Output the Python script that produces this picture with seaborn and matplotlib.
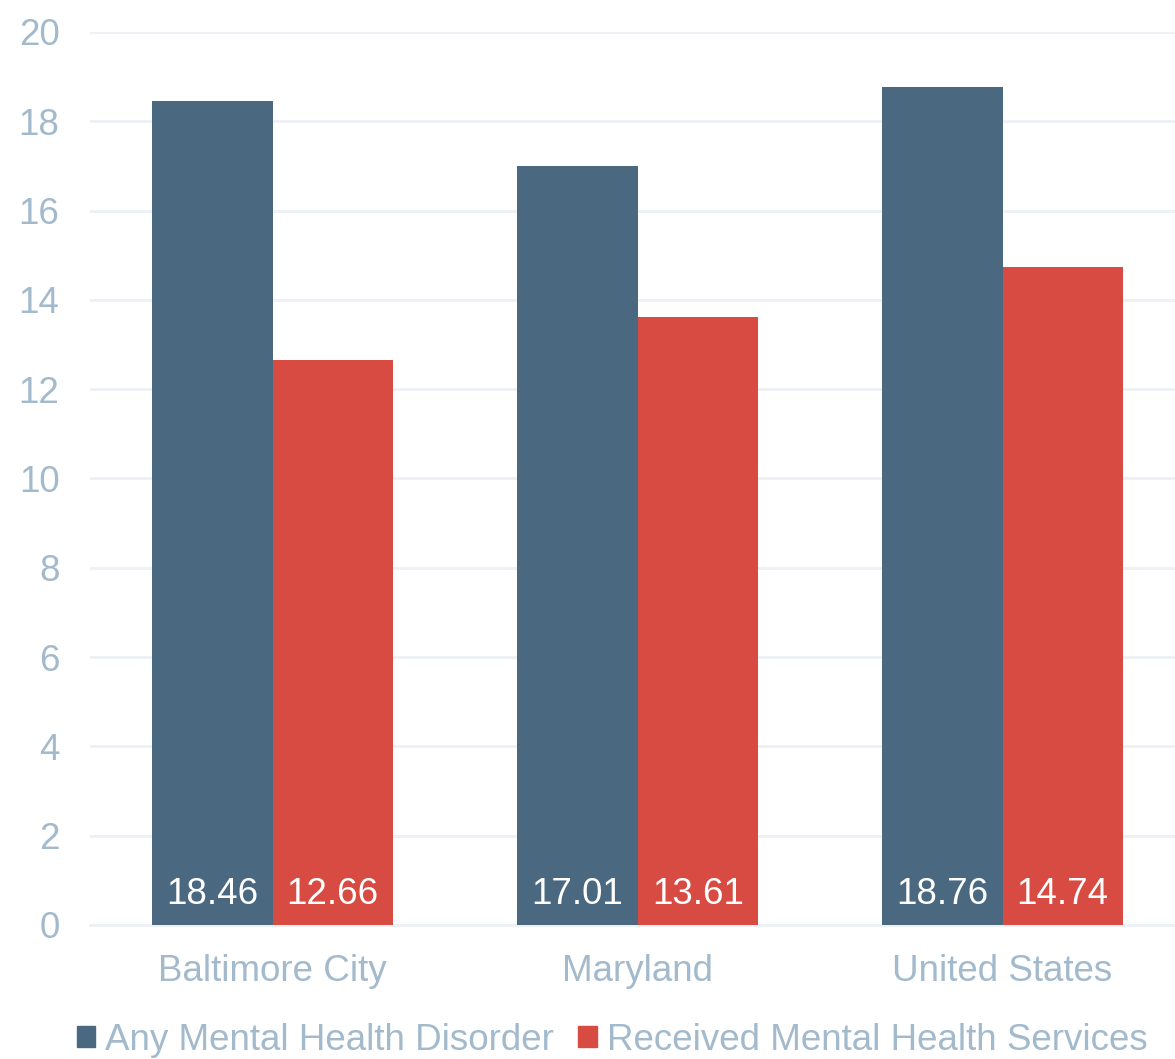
import matplotlib
matplotlib.use("Agg")
import matplotlib.pyplot as plt
import seaborn as sns
import pandas as pd

categories = ["Baltimore City", "Maryland", "United States"]
series_names = ["Any Mental Health Disorder", "Received Mental Health Services"]
any_disorder = [18.46, 17.01, 18.76]
received_services = [12.66, 13.61, 14.74]
y_ticks = [0, 2, 4, 6, 8, 10, 12, 14, 16, 18, 20]

colors = ["#4A6980", "#D84B42"]
text_color = "#A2BACC"
grid_color = "#EDF1F5"
fs = 26.5

df = pd.DataFrame({
    "Region": categories * 2,
    "Series": [series_names[0]] * 3 + [series_names[1]] * 3,
    "Value": any_disorder + received_services,
})

sns.set_theme(style="white")
plt.rcParams["font.family"] = ["Liberation Sans", "DejaVu Sans"]

fig = plt.figure(figsize=(11.75, 10.59), dpi=100)
ax = fig.add_axes([90 / 1175, 1 - 925 / 1059, 1095 / 1175, (925 - 32) / 1059])

sns.barplot(data=df, x="Region", y="Value", hue="Series", order=categories,
            hue_order=series_names, palette=colors, width=0.66, saturation=1,
            ax=ax, legend=False, zorder=3, linewidth=0)

ax.set_xlim(-0.5, 2.5)
ax.set_ylim(0, 20)
ax.set_yticks(y_ticks)
ax.set_xlabel("")
ax.set_ylabel("")
ax.yaxis.grid(True, color=grid_color, linewidth=2, zorder=0)
ax.set_axisbelow(True)
for s in ["top", "right", "left"]:
    ax.spines[s].set_visible(False)
ax.spines["bottom"].set_color(grid_color)
ax.spines["bottom"].set_linewidth(2)

ax.tick_params(axis="y", length=0, pad=22, labelsize=fs, labelcolor=text_color)
ax.tick_params(axis="x", which="major", length=0, pad=21, labelsize=fs, labelcolor=text_color)
ax.set_xticks([-0.5, 0.5, 1.5, 2.5], minor=True)
ax.tick_params(axis="x", which="minor", length=7, width=1.5, color=grid_color)

for container in ax.containers:
    for patch in container:
        h = patch.get_height()
        ax.annotate(f"{h:.2f}", xy=(patch.get_x() + patch.get_width() / 2, 0),
                    xytext=(0, 9), textcoords="offset points",
                    ha="center", va="bottom", color="white", fontsize=fs, zorder=5)

handles = [plt.Rectangle((0, 0), 1, 1, color=c) for c in colors]
fig.legend(handles, series_names, loc="center", bbox_to_anchor=(0.521, 1 - 1040 / 1059),
           ncol=2, frameon=False, fontsize=fs, labelcolor=text_color,
           handlelength=0.5, handleheight=0.5, handletextpad=0.28, columnspacing=0.65)

fig.savefig("out.png", dpi=100)
